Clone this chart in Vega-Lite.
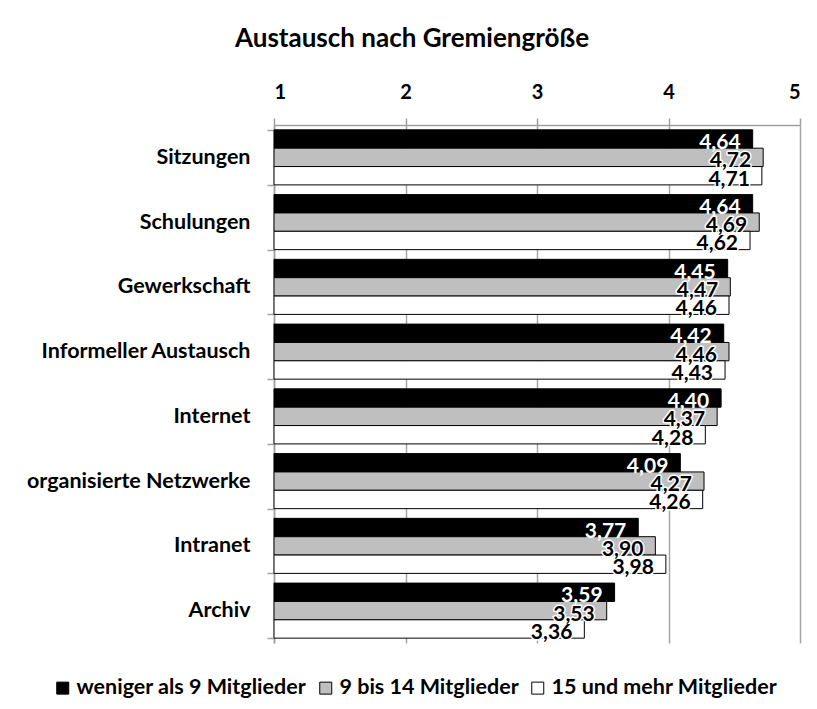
{
  "$schema": "https://vega.github.io/schema/vega-lite/v6.json",
  "width": 526,
  "height": 518,
  "autosize": {"type": "none"},
  "padding": {"left": 274, "top": 125, "right": 17, "bottom": 66},
  "background": "white",
  "config": {
    "font": "Lato",
    "locale": {"number": {"decimal": ",", "thousands": ".", "grouping": [3], "currency": ["", " €"]}},
    "view": {"stroke": null}
  },
  "title": {
    "text": "Austausch nach Gremiengröße",
    "fontSize": 26,
    "fontWeight": "bold",
    "font": "Lato",
    "color": "black",
    "anchor": "middle",
    "dx": -125,
    "offset": 30
  },
  "data": {
    "values": [
      {"cat": "Sitzungen", "series": "weniger als 9 Mitglieder", "v": 4.64},
      {"cat": "Sitzungen", "series": "9 bis 14 Mitglieder", "v": 4.72},
      {"cat": "Sitzungen", "series": "15 und mehr Mitglieder", "v": 4.71},
      {"cat": "Schulungen", "series": "weniger als 9 Mitglieder", "v": 4.64},
      {"cat": "Schulungen", "series": "9 bis 14 Mitglieder", "v": 4.69},
      {"cat": "Schulungen", "series": "15 und mehr Mitglieder", "v": 4.62},
      {"cat": "Gewerkschaft", "series": "weniger als 9 Mitglieder", "v": 4.45},
      {"cat": "Gewerkschaft", "series": "9 bis 14 Mitglieder", "v": 4.47},
      {"cat": "Gewerkschaft", "series": "15 und mehr Mitglieder", "v": 4.46},
      {"cat": "Informeller Austausch", "series": "weniger als 9 Mitglieder", "v": 4.42},
      {"cat": "Informeller Austausch", "series": "9 bis 14 Mitglieder", "v": 4.46},
      {"cat": "Informeller Austausch", "series": "15 und mehr Mitglieder", "v": 4.43},
      {"cat": "Internet", "series": "weniger als 9 Mitglieder", "v": 4.40},
      {"cat": "Internet", "series": "9 bis 14 Mitglieder", "v": 4.37},
      {"cat": "Internet", "series": "15 und mehr Mitglieder", "v": 4.28},
      {"cat": "organisierte Netzwerke", "series": "weniger als 9 Mitglieder", "v": 4.09},
      {"cat": "organisierte Netzwerke", "series": "9 bis 14 Mitglieder", "v": 4.27},
      {"cat": "organisierte Netzwerke", "series": "15 und mehr Mitglieder", "v": 4.26},
      {"cat": "Intranet", "series": "weniger als 9 Mitglieder", "v": 3.77},
      {"cat": "Intranet", "series": "9 bis 14 Mitglieder", "v": 3.90},
      {"cat": "Intranet", "series": "15 und mehr Mitglieder", "v": 3.98},
      {"cat": "Archiv", "series": "weniger als 9 Mitglieder", "v": 3.59},
      {"cat": "Archiv", "series": "9 bis 14 Mitglieder", "v": 3.53},
      {"cat": "Archiv", "series": "15 und mehr Mitglieder", "v": 3.36}
    ]
  },
  "encoding": {
    "y": {
      "field": "cat",
      "type": "nominal",
      "sort": ["Sitzungen", "Schulungen", "Gewerkschaft", "Informeller Austausch", "Internet", "organisierte Netzwerke", "Intranet", "Archiv"],
      "scale": {"paddingInner": 0.15, "paddingOuter": 0.075},
      "axis": {
        "title": null,
        "domainColor": "#a0a0a0",
        "domainWidth": 1.5,
        "tickColor": "#a0a0a0",
        "tickWidth": 1.5,
        "tickSize": 7,
        "tickBand": "extent",
        "labelFont": "Lato",
        "labelFontSize": 21.5,
        "labelFontWeight": "bold",
        "labelColor": "black",
        "labelPadding": 17,
        "labelLimit": 300
      }
    },
    "yOffset": {
      "field": "series",
      "type": "nominal",
      "scale": {"domain": ["weniger als 9 Mitglieder", "9 bis 14 Mitglieder", "15 und mehr Mitglieder"], "paddingInner": 0, "paddingOuter": 0}
    },
    "x": {
      "field": "v",
      "type": "quantitative",
      "scale": {"domain": [1, 5], "zero": false, "nice": false},
      "axis": {
        "orient": "top",
        "title": null,
        "values": [1, 2, 3, 4, 5],
        "grid": true,
        "gridColor": "#a6a6a6",
        "gridWidth": 1.5,
        "domainColor": "#a0a0a0",
        "domainWidth": 1.5,
        "tickColor": "#a0a0a0",
        "tickWidth": 1.5,
        "tickSize": 7,
        "labelFont": "Lato",
        "labelFontSize": 20,
        "labelFontWeight": "bold",
        "labelColor": "black",
        "labelPadding": 16,
        "format": "d"
      }
    }
  },
  "layer": [
    {
      "mark": {"type": "bar", "stroke": "black", "strokeWidth": 1},
      "encoding": {
        "x2": {"datum": 1},
        "fill": {
          "field": "series",
          "type": "nominal",
          "scale": {
            "domain": ["weniger als 9 Mitglieder", "9 bis 14 Mitglieder", "15 und mehr Mitglieder"],
            "range": ["#000000", "#bfbfbf", "#ffffff"]
          },
          "legend": {
            "orient": "none",
            "legendX": -222,
            "legendY": 552,
            "direction": "horizontal",
            "title": null,
            "symbolType": "square",
            "symbolSize": 144,
            "symbolStrokeColor": "black",
            "symbolStrokeWidth": 1,
            "labelFont": "Lato",
            "labelFontSize": 21.5,
            "labelFontWeight": "bold",
            "labelColor": "black",
            "labelOffset": 3,
            "columnPadding": 8,
            "labelLimit": 300
          }
        }
      }
    },
    {
      "transform": [{"filter": "datum.series === 'weniger als 9 Mitglieder'"}],
      "mark": {"type": "text", "align": "right", "baseline": "middle", "dx": -12, "dy": 4, "fontSize": 21, "fontWeight": "bold", "font": "Lato", "fill": "white"},
      "encoding": {
        "text": {"field": "v", "type": "quantitative", "format": ".2f"}
      }
    },
    {
      "transform": [{"filter": "datum.series !== 'weniger als 9 Mitglieder'"}],
      "mark": {"type": "text", "align": "right", "baseline": "middle", "dx": -12, "dy": 4, "fontSize": 21, "fontWeight": "bold", "font": "Lato", "fill": "black", "stroke": "white", "strokeWidth": 3, "strokeJoin": "round"},
      "encoding": {
        "text": {"field": "v", "type": "quantitative", "format": ".2f"}
      }
    },
    {
      "transform": [{"filter": "datum.series !== 'weniger als 9 Mitglieder'"}],
      "mark": {"type": "text", "align": "right", "baseline": "middle", "dx": -12, "dy": 4, "fontSize": 21, "fontWeight": "bold", "font": "Lato", "fill": "black"},
      "encoding": {
        "text": {"field": "v", "type": "quantitative", "format": ".2f"}
      }
    }
  ]
}
